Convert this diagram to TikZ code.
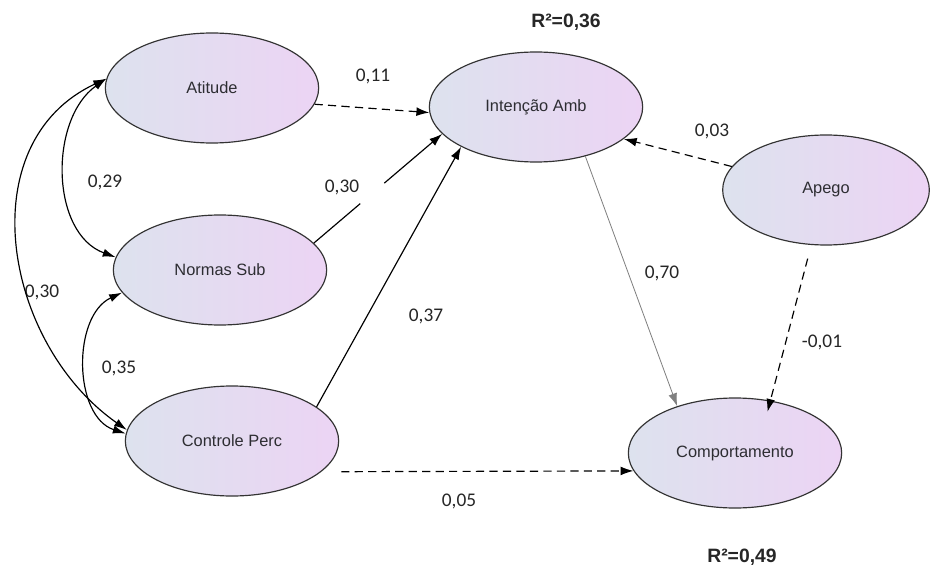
\documentclass[tikz,border=0pt]{standalone}
\usepackage{fontspec}
\setmainfont{Liberation Sans}
\newfontfamily\labfont{Carlito}
\usetikzlibrary{arrows.meta, shapes.geometric}
\definecolor{fillleft}{RGB}{221,226,238}
\definecolor{fillright}{RGB}{236,212,244}
\definecolor{textgray}{RGB}{45,45,50}
\tikzset{
    latent/.style={ellipse, draw=black!80, line width=1pt, left color=fillleft, right color=fillright, minimum width=6.4cm, minimum height=3.3cm, text=textgray, font=\fontsize{14}{16}\selectfont},
    dedge/.style={-{Latex[length=11pt,width=7.5pt]}, line width=1pt},
    ndedge/.style={dedge, dash pattern=on 7pt off 4.5pt},
    covar/.style={{Latex[length=11pt,width=7pt]}-{Latex[length=11pt,width=7pt]}, line width=1pt},
    coef/.style={font=\labfont\fontsize{16.5}{18}\selectfont, text=black!85},
    rsq/.style={font=\bfseries\fontsize{16.5}{19}\selectfont, text=black!85},
}
\begin{document}
\begin{tikzpicture}[x=0.03cm, y=-0.03cm]
    \useasboundingbox (0,0) rectangle (930,568);
    \node[latent] (atitude) at (212,88) {Atitude};
    \node[latent] (normas) at (220,270) {Normas Sub};
    \node[latent] (controle) at (232,441) {Controle Perc};
    \node[latent] (intencao) at (536,107) {Intenção Amb};
    \node[latent, minimum width=6.2cm] (apego) at (826,190) {Apego};
    \node[latent] (comport) at (735,453) {Comportamento};
    % coeficientes
    \node[rsq] (r2int) at (566,22) {R²=0,36};
    \node[rsq] (r2comp) at (742,557) {R²=0,49};
    \node[coef] (c1) at (373,76) {0,11};
    \node[coef] (c2) at (342,187) {0,30};
    \node[coef] (c3) at (426,316) {0,37};
    \node[coef] (c4) at (712,131) {0,03};
    \node[coef] (c5) at (662,273) {0,70};
    \node[coef] (c6) at (822,342) {-0,01};
    \node[coef] (c7) at (459,501) {0,05};
    \node[coef] (c8) at (105,182) {0,29};
    \node[coef] (c9) at (42,292) {0,30};
    \node[coef] (c10) at (119,368) {0,35};
    % caminhos
    \draw[ndedge] (atitude.-9) -- (intencao.183);
    \draw[dedge, dash pattern=on 52pt off 27pt on 300pt] (normas.16) -- (intencao.196);
    \draw[dedge] (controle.22) -- (intencao.208);
    \draw[ndedge] (apego.166) -- (intencao.-20);
    \draw[dedge, draw=gray, line width=0.7pt] (intencao.-45) -- (comport.141);
    \draw[ndedge, shorten <=12pt, shorten >=-10pt] (apego.-105) -- (comport.56);
    \draw[ndedge, shorten <=17pt] (controle.-19) -- (comport.190);
    % covariancias
    \draw[covar] (atitude.175) to[out=215, in=160] (normas.173);
    \draw[covar] (normas.193) to[out=205, in=162] (controle.176);
    \draw[covar] (atitude.175) to[out=205, in=145, looseness=1.1] (controle.174);
\end{tikzpicture}
\end{document}
